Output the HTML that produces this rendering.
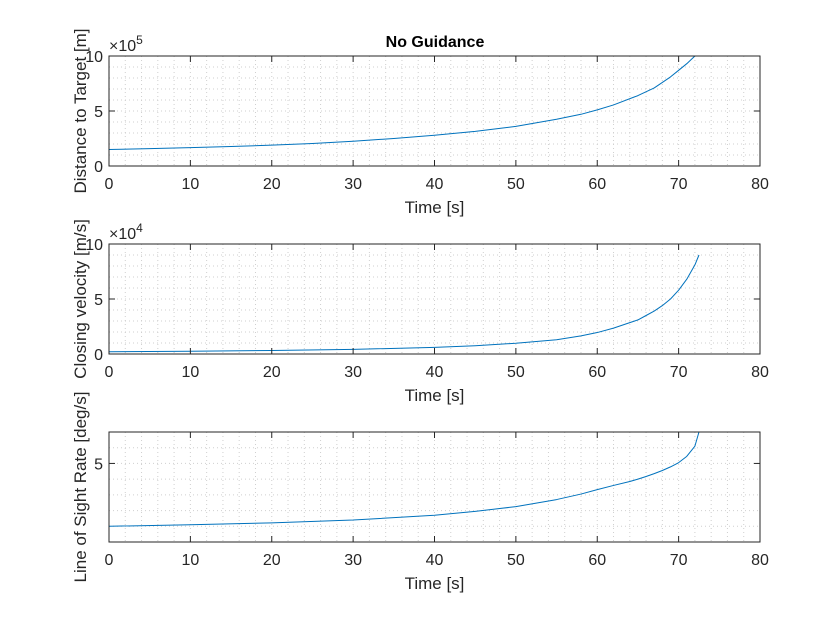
<!DOCTYPE html>
<html><head><meta charset="utf-8">
<style>
body{margin:0;background:#fff;}
svg{display:block;font-family:"Liberation Sans",Arial,sans-serif;}
</style></head>
<body>
<svg id="fig" width="840" height="630" viewBox="0 0 840 630">
<rect width="840" height="630" fill="#fff"/>
<text x="435" y="47" text-anchor="middle" font-size="16" font-weight="bold" fill="#000">No Guidance</text>
</svg>
<script>
const xTicks=[0,10,20,30,40,50,60,70,80];
const time=[0,5,10,15,20,25,30,35,40,45,50,55,58,60,62,65,67,68,69,70,71,72,72.5];
const distance=[1.5,1.58,1.67,1.77,1.9,2.05,2.25,2.5,2.8,3.15,3.6,4.25,4.7,5.1,5.55,6.4,7.1,7.6,8.1,8.7,9.3,10.0,10.4];
const time2=[0,10,20,30,40,45,50,55,58,60,62,64,65,66,67,68,69,70,71,72,72.5];
const closing=[0.2,0.25,0.32,0.42,0.6,0.75,0.98,1.3,1.65,1.95,2.35,2.85,3.1,3.5,3.9,4.4,5.0,5.8,6.8,8.1,9.0];
const time3=[0,10,20,30,40,45,50,55,58,60,62,64,65,66,67,68,69,70,71,72,72.5];
const losRate=[1.0,1.1,1.22,1.4,1.7,1.95,2.25,2.7,3.05,3.33,3.6,3.85,4.0,4.17,4.35,4.55,4.78,5.05,5.45,6.1,7.0];
const yTicks1=[0,5,10], yTicks2=[0,5,10], yTicks3=[5];

const NS="http://www.w3.org/2000/svg";
const svg=document.getElementById('fig');
function mk(tag,attrs,parent){const e=document.createElementNS(NS,tag);for(const k in attrs)e.setAttribute(k,attrs[k]);(parent||svg).appendChild(e);return e;}

function panel(name,top,ymax,yTicks,xs,ys,ylabel,exp){
  const L=109,R=760,T=top,B=top+110;
  const g=mk('g',{});
  
  
  const sx=v=>L+(v-0)/80*(R-L);
  const sy=v=>B-(v/ymax)*(B-T);
  for(let v=2;v<80;v+=2){mk('line',{x1:sx(v),x2:sx(v),y1:T,y2:B,stroke:'#cfcfcf','stroke-width':1,'stroke-dasharray':'1,3'},g);}
  for(let v=1;v<ymax;v+=1){mk('line',{x1:L,x2:R,y1:sy(v),y2:sy(v),stroke:'#cfcfcf','stroke-width':1,'stroke-dasharray':'1,3'},g);}
  const clip=mk('clipPath',{id:'c'+name},g);
  mk('rect',{x:L,y:T,width:R-L,height:B-T},clip);
  const pts=xs.map((x,i)=>sx(x).toFixed(2)+','+sy(ys[i]).toFixed(2)).join(' ');
  const pl=mk('polyline',{points:pts,fill:'none',stroke:'#0072BD','stroke-width':1,'stroke-linejoin':'round','clip-path':'url(#c'+name+')'},g);
  
  
  mk('rect',{x:L,y:T,width:R-L,height:B-T,fill:'none',stroke:'#262626','stroke-width':1},g);
  xTicks.forEach(v=>{
    mk('line',{x1:sx(v),x2:sx(v),y1:B,y2:B-6,stroke:'#262626'},g);
    mk('line',{x1:sx(v),x2:sx(v),y1:T,y2:T+6,stroke:'#262626'},g);
    const t=mk('text',{x:sx(v),y:B+23,'text-anchor':'middle','font-size':16,fill:'#262626'},g);
    t.textContent=v;
    
    
  });
  yTicks.forEach(v=>{
    mk('line',{x1:L,x2:L+6,y1:sy(v),y2:sy(v),stroke:'#262626'},g);
    mk('line',{x1:R,x2:R-6,y1:sy(v),y2:sy(v),stroke:'#262626'},g);
    const t=mk('text',{x:L-6,y:sy(v)+6,'text-anchor':'end','font-size':16,fill:'#262626'},g);
    t.textContent=v;
    
    
  });
  const xl=mk('text',{x:(L+R)/2,y:B+47,'text-anchor':'middle','font-size':17,fill:'#262626'},g);
  xl.textContent='Time [s]';
  
  
  const yl=mk('text',{x:0,y:0,'text-anchor':'middle','font-size':17,fill:'#262626',transform:'translate(86,'+((T+B)/2)+') rotate(-90)'},g);
  yl.textContent=ylabel;
  
  
  if(exp){
    const e=mk('text',{x:L,y:T-5,'font-size':16,fill:'#262626'},g);
    
    
    e.textContent='\u00d710';
    const s=mk('tspan',{dy:-7,'font-size':12},e);s.textContent=exp;
  }
}
panel('distance-plot',56,10,yTicks1,time,distance,'Distance to Target [m]','5');
panel('closing-velocity-plot',244,10,yTicks2,time2,closing,'Closing velocity [m/s]','4');
panel('los-rate-plot',432,7,yTicks3,time3,losRate,'Line of Sight Rate [deg/s]',null);
</script>
</body></html>
